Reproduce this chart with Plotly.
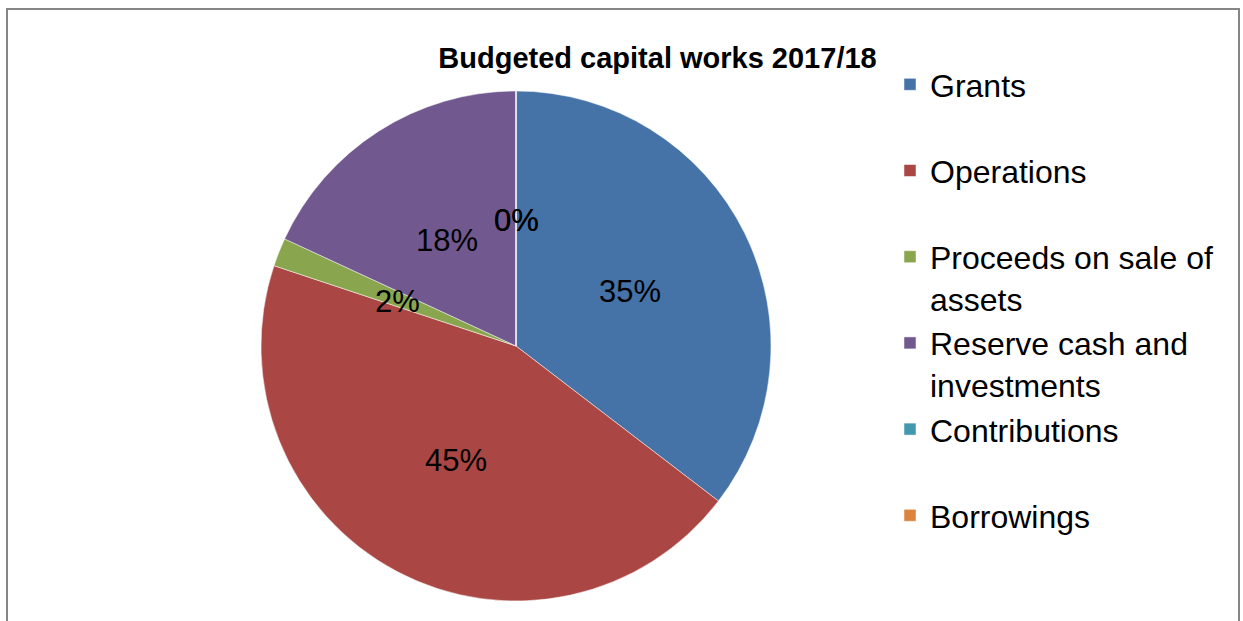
import math
import plotly.graph_objects as go

# Funding sources for the capital works programme (share of budget, %)
sources = [
    "Grants",
    "Operations",
    "Proceeds on sale of<br>assets",
    "Reserve cash and<br>investments",
    "Contributions",
    "Borrowings",
]
shares = [35.4, 44.7, 1.8, 18.1, 0.0, 0.0]
colors = ["#4572A7", "#AA4643", "#89A54E", "#71588F", "#4198AF", "#DB843D"]

W, H = 1243, 621
FONT = "Liberation Sans, Arial, sans-serif"

# pie geometry in pixels (centre and radius), converted to a paper domain
CX, CY, R = 516, 346, 255

# pad single-line legend entries to two lines so every entry has equal height
legend_labels = [s if "<br>" in s else s + "<br> " for s in sources]

fig = go.Figure(
    go.Pie(
        labels=legend_labels,
        values=shares,
        sort=False,
        direction="clockwise",
        rotation=0,
        marker=dict(colors=colors, line=dict(color="#ffffff", width=0.5)),
        textinfo="none",
        domain=dict(x=[(CX - R) / W, (CX + R) / W],
                    y=[(H - CY - R) / H, (H - CY + R) / H]),
        hoverinfo="label+percent",
    )
)

# percentage labels at half radius along each slice's mid-angle (clockwise from top)
total = sum(shares)
cum = 0.0
for v in shares:
    frac = v / total
    mid = 2 * math.pi * (cum + frac / 2)
    cum += frac
    px = CX + 0.5 * R * math.sin(mid)
    py = CY - 0.5 * R * math.cos(mid) + 2
    fig.add_annotation(
        x=px / W, y=1 - py / H, xref="paper", yref="paper",
        xanchor="center", yanchor="middle",
        text=f"{round(frac * 100)}%", showarrow=False,
        font=dict(family=FONT, size=31, color="#000000"),
    )

# chart frame
fig.add_shape(
    type="rect", xref="paper", yref="paper",
    x0=7 / W, x1=1239 / W, y0=-0.2, y1=1 - 9 / H,
    line=dict(color="#868686", width=2), fillcolor="rgba(0,0,0,0)",
)

fig.update_layout(
    width=W, height=H,
    margin=dict(l=0, r=0, t=0, b=0),
    paper_bgcolor="#ffffff",
    title=dict(
        text="<b>Budgeted capital works 2017/18</b>",
        x=657.5 / W, xanchor="center", y=1 - 58 / H, yanchor="middle",
        font=dict(family=FONT, size=29, color="#000000"),
    ),
    showlegend=True,
    legend=dict(
        x=890 / W, xanchor="left", y=1 - 57 / H, yanchor="top",
        valign="top",
        font=dict(family=FONT, size=32, color="#000000"),
        bgcolor="rgba(0,0,0,0)",
        traceorder="normal",
    ),
)

fig.write_html("out.html")
